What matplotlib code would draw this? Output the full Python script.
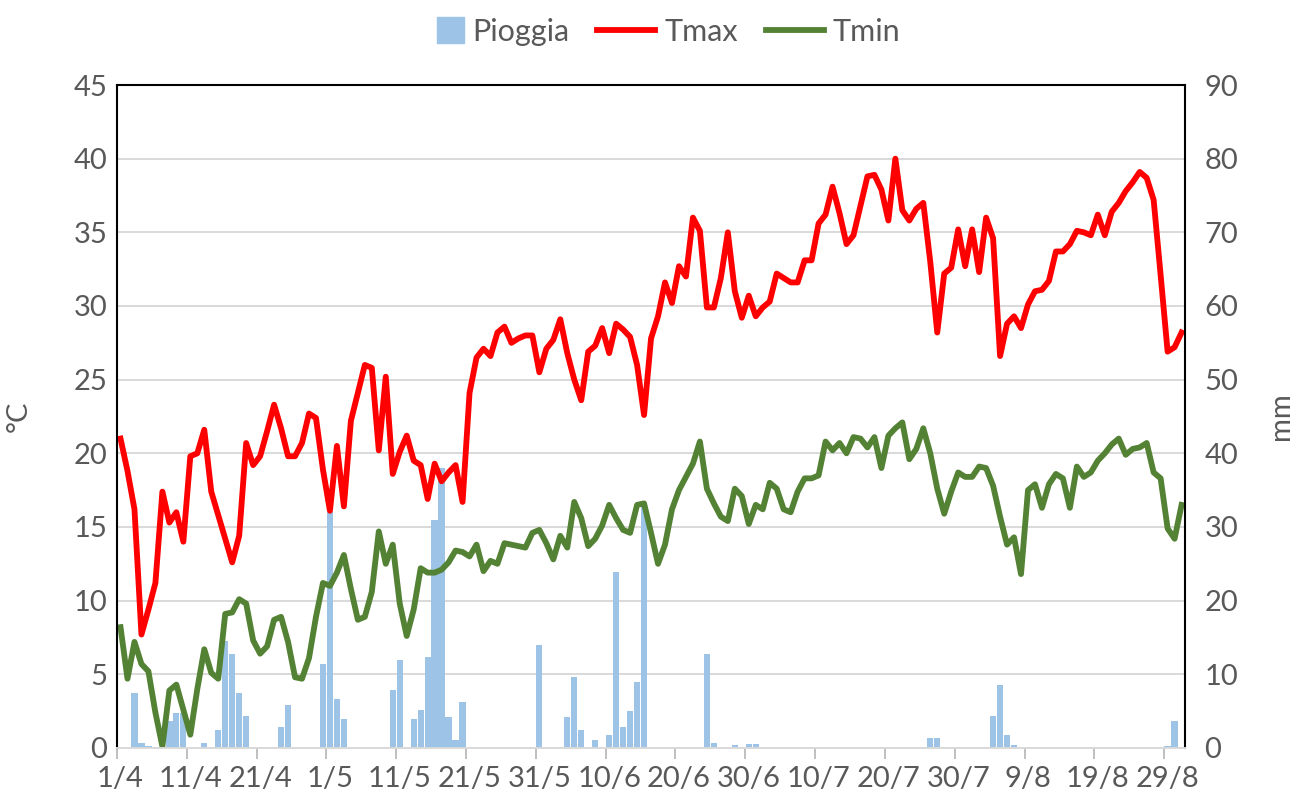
import matplotlib
matplotlib.use('Agg')
import matplotlib.pyplot as plt
import matplotlib.patches as mpatches
from matplotlib.lines import Line2D
from matplotlib.legend_handler import HandlerPatch
import numpy as np
import pandas as pd

plt.rcParams['font.family'] = ['Lato', 'DejaVu Sans']

# giorni dal 1/4 al 31/8
days = pd.date_range('2023-04-01', '2023-08-31', freq='D')
labels = [f'{d.day}/{d.month}' for d in days]

# temperature massime (°C)
tmax = [21.0, 18.8, 16.2, 7.7, 9.4, 11.2, 17.4, 15.3, 16.0, 14.0,
        19.8, 20.0, 21.6, 17.4, 15.8, 14.2, 12.6, 14.4, 20.7, 19.2,
        19.8, 21.5, 23.3, 21.7, 19.8, 19.8, 20.7, 22.7, 22.4, 18.9,
        16.1, 20.5, 16.4, 22.2, 24.1, 26.0, 25.8, 20.2, 25.2, 18.6,
        20.1, 21.2, 19.5, 19.2, 16.9, 19.3, 18.1, 18.7, 19.2, 16.7,
        24.1, 26.5, 27.1, 26.6, 28.2, 28.6, 27.5, 27.8, 28.0, 28.0,
        25.5, 27.1, 27.7, 29.1, 26.8, 25.0, 23.6, 26.9, 27.3, 28.5,
        26.8, 28.8, 28.4, 27.9, 26.0, 22.6, 27.8, 29.3, 31.6, 30.2,
        32.7, 32.0, 36.0, 35.1, 29.9, 29.9, 31.9, 35.0, 31.0, 29.2,
        30.7, 29.3, 29.9, 30.3, 32.2, 31.9, 31.6, 31.6, 33.1, 33.1,
        35.6, 36.2, 38.1, 36.3, 34.2, 34.8, 36.8, 38.8, 38.9, 37.9,
        35.8, 40.0, 36.5, 35.8, 36.6, 37.0, 33.0, 28.2, 32.2, 32.6,
        35.2, 32.7, 35.2, 32.3, 36.0, 34.6, 26.6, 28.8, 29.3, 28.5,
        30.1, 31.0, 31.1, 31.7, 33.7, 33.7, 34.2, 35.1, 35.0, 34.8,
        36.2, 34.8, 36.4, 37.0, 37.8, 38.4, 39.1, 38.7, 37.2, 32.1,
        26.9, 27.2, 28.2]

# temperature minime (°C)
tmin = [8.2, 4.7, 7.2, 5.7, 5.2, 2.4, 0.1, 3.9, 4.3, 2.6,
        0.9, 4.0, 6.7, 5.1, 4.7, 9.1, 9.2, 10.1, 9.8, 7.3,
        6.4, 6.9, 8.7, 8.9, 7.2, 4.8, 4.7, 6.1, 8.9, 11.2,
        11.0, 11.9, 13.1, 10.8, 8.7, 8.9, 10.6, 14.7, 12.5, 13.8,
        9.8, 7.6, 9.4, 12.2, 11.9, 11.9, 12.1, 12.6, 13.4, 13.3,
        13.0, 13.8, 12.0, 12.7, 12.5, 13.9, 13.8, 13.7, 13.6, 14.6,
        14.8, 13.9, 12.8, 14.4, 13.6, 16.7, 15.6, 13.7, 14.2, 15.1,
        16.5, 15.6, 14.8, 14.6, 16.5, 16.6, 14.6, 12.5, 13.8, 16.2,
        17.5, 18.4, 19.3, 20.8, 17.6, 16.6, 15.7, 15.4, 17.6, 17.1,
        15.2, 16.5, 16.2, 18.0, 17.6, 16.2, 16.0, 17.4, 18.3, 18.3,
        18.5, 20.8, 20.2, 20.7, 20.0, 21.1, 21.0, 20.4, 21.1, 19.0,
        21.2, 21.7, 22.1, 19.6, 20.3, 21.7, 20.0, 17.6, 15.9, 17.4,
        18.7, 18.4, 18.4, 19.1, 19.0, 17.8, 15.7, 13.8, 14.3, 11.8,
        17.5, 17.9, 16.3, 17.9, 18.6, 18.3, 16.3, 19.1, 18.4, 18.7,
        19.5, 20.0, 20.6, 21.0, 19.9, 20.3, 20.4, 20.7, 18.7, 18.3,
        14.9, 14.2, 16.5]

# pioggia giornaliera (mm)
pioggia = [0, 0, 7.5, 0.7, 0.3, 0, 0, 3.6, 4.7, 4.7,
           0, 0, 0.7, 0, 2.4, 14.5, 12.7, 7.5, 4.3, 0,
           0, 0, 0, 2.9, 5.9, 0, 0, 0, 0, 11.4,
           32.0, 6.6, 3.9, 0, 0, 0, 0, 0, 0, 7.9,
           12.0, 0, 4.0, 5.2, 12.4, 31.0, 38.0, 4.2, 1.1, 6.2,
           0, 0, 0, 0, 0, 0, 0, 0, 0, 0,
           14.0, 0, 0, 0, 4.2, 9.6, 2.5, 0, 1.1, 0,
           1.8, 23.9, 2.9, 5.0, 8.9, 33.2, 0, 0, 0, 0,
           0, 0, 0, 0, 12.7, 0.7, 0, 0, 0.4, 0,
           0.6, 0.6, 0, 0, 0, 0, 0, 0, 0, 0,
           0, 0, 0, 0, 0, 0, 0, 0, 0, 0,
           0, 0, 0, 0, 0, 0, 1.3, 1.3, 0, 0,
           0, 0, 0, 0, 0, 4.4, 8.6, 1.7, 0.4, 0,
           0, 0, 0, 0, 0, 0, 0, 0, 0, 0,
           0, 0, 0, 0, 0, 0, 0, 0, 0, 0,
           0.2, 3.7, 0]

x = np.arange(len(days))
testo = '#595959'
fs = 21

fig = plt.figure(figsize=(13.06, 8.08), dpi=100)
ax = fig.add_axes([0.0896, 0.0743, 0.8178, 0.8205])
ax2 = ax.twinx()
ax.set_zorder(2)
ax.patch.set_visible(False)
ax2.set_zorder(1)

# barre pioggia sull'asse destro
ax2.bar(x, pioggia, width=0.9, color='#9DC3E6', zorder=2)
ax2.set_ylim(0, 90)
ax2.set_yticks(range(0, 91, 10))
ax2.grid(axis='y', color='#D9D9D9', lw=1.4)
ax2.set_axisbelow(True)
ax2.tick_params(axis='y', length=0, pad=14, labelsize=fs, labelcolor=testo)
for s in ax2.spines.values():
    s.set_visible(False)
ax2.set_ylabel('mm', fontsize=fs, color=testo)
ax2.yaxis.set_label_coords(1.078, 0.5)

# temperature
ax.plot(x, tmax, color='#FF0000', lw=4.2, solid_joinstyle='round')
ax.plot(x, tmin, color='#548235', lw=4.2, solid_joinstyle='round')
ax.set_ylim(0, 45)
ax.set_yticks(range(0, 46, 5))
ax.set_xlim(-0.5, len(x) - 0.5)
ax.set_xticks(np.arange(-0.5, len(x), 10))
ax.set_xticklabels([])
ax.set_xticks(x[::10], minor=True)
ax.set_xticklabels(labels[::10], minor=True)
ax.tick_params(axis='x', which='major', length=8, color='#BFBFBF', width=1.4)
ax.tick_params(axis='x', which='minor', length=0, pad=13, labelsize=fs, labelcolor=testo)
ax.tick_params(axis='y', length=0, pad=7, labelsize=fs, labelcolor=testo)
for side in ['left', 'top', 'right']:
    ax.spines[side].set_color('black')
    ax.spines[side].set_linewidth(1.5)
ax.spines['bottom'].set_color('#D9D9D9')
ax.spines['bottom'].set_linewidth(1.4)
ax.set_ylabel('°C', fontsize=fs, color=testo)
ax.yaxis.set_label_coords(-0.08, 0.5)


def quadrato(legend, orig_handle, xdescent, ydescent, width, height, fontsize):
    s = 1.25 * height
    return mpatches.Rectangle((width - xdescent - s, -ydescent + (height - s) / 2), s, s)


handles = [mpatches.Patch(color='#9DC3E6', label='Pioggia'),
           Line2D([], [], color='#FF0000', lw=4.2, label='Tmax'),
           Line2D([], [], color='#548235', lw=4.2, label='Tmin')]
fig.legend(handles=handles, loc='upper center', bbox_to_anchor=(0.5, 1.012), ncol=3,
           frameon=False, fontsize=22, labelcolor=testo, handlelength=1.9,
           handletextpad=0.3, columnspacing=0.9,
           handler_map={mpatches.Patch: HandlerPatch(patch_func=quadrato)})

fig.savefig('out.png', dpi=100)
